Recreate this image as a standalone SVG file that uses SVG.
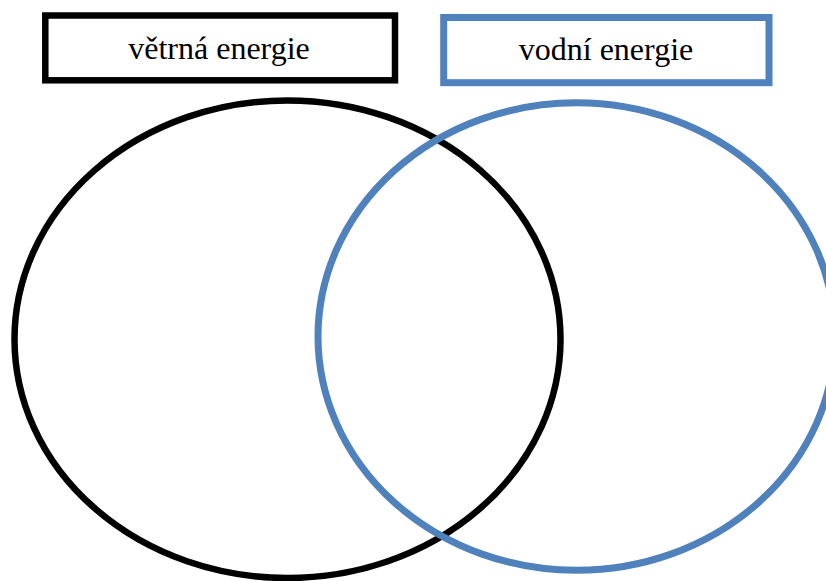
<svg xmlns="http://www.w3.org/2000/svg" width="826" height="581" viewBox="0 0 826 581">
<style>
.lbl{font-family:"Liberation Serif","Times New Roman",serif;font-size:32px;fill:#000;text-anchor:middle}
.k{fill:none;stroke:#000}
.b{fill:none;stroke:#4F81BD}
</style>
<rect width="826" height="581" fill="#fff"/>
<g id="wind-label">
<rect class="k" x="45.3" y="15.5" width="349.7" height="64.8" stroke-width="6.5"/>
<text class="lbl" x="219" y="58.5">větrná energie</text>
</g>
<g id="water-label">
<rect class="b" x="443.7" y="17.5" width="325.3" height="65.2" stroke-width="7"/>
<text class="lbl" x="606" y="60">vodní energie</text>
</g>
<g id="wind-circle">
<ellipse class="k" cx="287.5" cy="339.2" rx="273" ry="238.8" stroke-width="6.5"/>
</g>
<g id="water-circle">
<ellipse class="b" cx="576.5" cy="336.5" rx="258.5" ry="233.8" stroke-width="7"/>
</g>
<g id="connectors"/>
</svg>
